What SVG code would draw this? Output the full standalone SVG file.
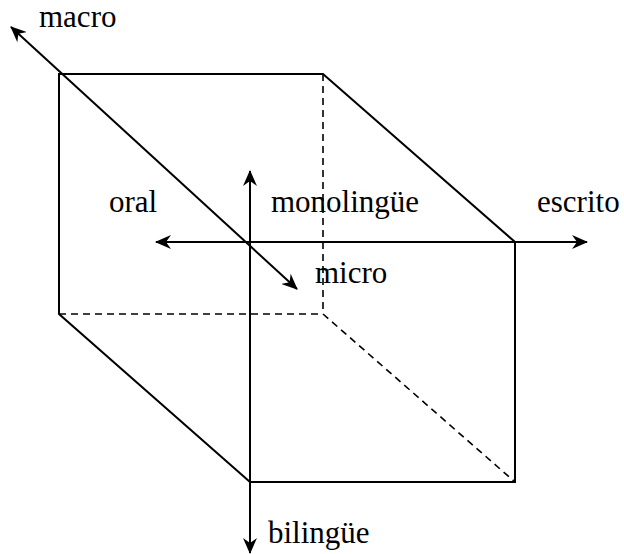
<svg xmlns="http://www.w3.org/2000/svg" width="624" height="554" viewBox="0 0 624 554">
<style>
.e{stroke:#000;stroke-width:2;fill:none;stroke-linecap:square}
.d{stroke:#000;stroke-width:1.6;fill:none;stroke-dasharray:7,5}
.ax{stroke:#000;stroke-width:2;fill:none}
text{font-family:"Liberation Serif","Times New Roman",serif;font-size:31px;fill:#000}
</style>
<defs>
<marker id="ah" viewBox="0 0 16 14" refX="15" refY="7" markerWidth="16" markerHeight="14" markerUnits="userSpaceOnUse" orient="auto-start-reverse">
<path d="M0,0 L16,7 L0,14 L5,7 Z" fill="#000"/>
</marker>
</defs>
<rect width="624" height="554" fill="#fff"/>
<g id="cube">
<path class="e" d="M59,74 L323,74 L515,242 L515,482 L250,482 L59,314 Z"/>
<path class="d" d="M323,74 L323,314 M59,314 L323,314 L515,482"/>
</g>
<g id="connectors">
<line class="ax" x1="156" y1="242" x2="587" y2="242" marker-start="url(#ah)" marker-end="url(#ah)"/>
<line class="ax" x1="250" y1="171" x2="250" y2="553" marker-start="url(#ah)" marker-end="url(#ah)"/>
<line class="ax" x1="11" y1="27" x2="297" y2="289" marker-start="url(#ah)" marker-end="url(#ah)"/>
</g>
<g id="labels">
<text x="39" y="27">macro</text>
<text x="109" y="212">oral</text>
<text x="271" y="212">monolingüe</text>
<text x="537" y="212">escrito</text>
<text x="315" y="283">micro</text>
<text x="268" y="543">bilingüe</text>
</g>
</svg>
